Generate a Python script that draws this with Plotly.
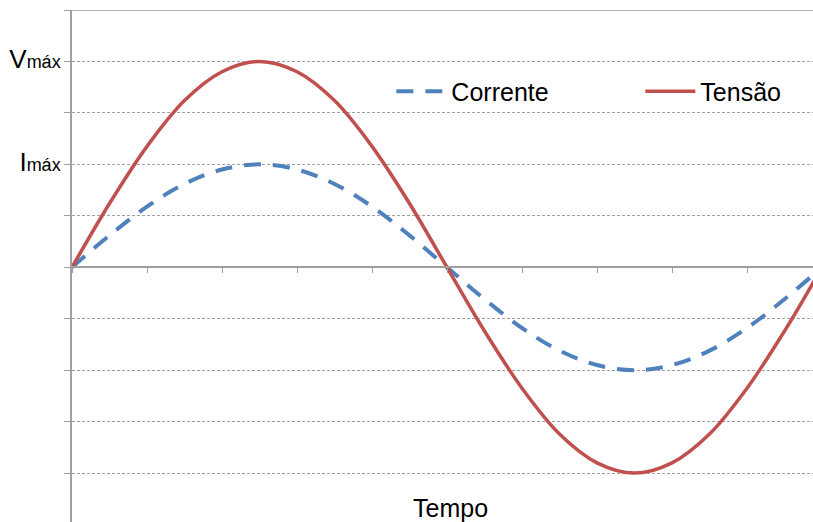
import plotly.graph_objects as go

# time (in tick units; one period = 10 units)
tempo = [0, 0.5, 1, 1.5, 2, 2.5, 3, 3.5, 4, 4.5, 5, 5.5, 6, 6.5, 7, 7.5, 8, 8.5, 9, 9.5, 10]
tensao = [0, 1.24, 2.35, 3.24, 3.80, 4.0, 3.80, 3.24, 2.35, 1.24, 0,
          -1.24, -2.35, -3.24, -3.80, -4.0, -3.80, -3.24, -2.35, -1.24, 0]
corrente = [0, 0.62, 1.18, 1.62, 1.90, 2.0, 1.90, 1.62, 1.18, 0.62, 0,
            -0.62, -1.18, -1.62, -1.90, -2.0, -1.90, -1.62, -1.18, -0.62, 0]

y_tickvals = [-4, -3, -2, -1, 0, 1, 2, 3, 4, 5]
y_ticktext = ["", "", "", "", "", "",
              "<span style='font-size:26px'>I</span>máx", "",
              "<span style='font-size:26px'>V</span>máx", ""]
x_tickvals = [0, 1, 2, 3, 4, 5, 6, 7, 8, 9, 10]

fig = go.Figure()
fig.add_trace(go.Scatter(x=tempo, y=corrente, name="Corrente", mode="lines",
                         line=dict(color="#4f81bd", width=4, dash="17px,12px", shape="spline"),
                         legend="legend"))
fig.add_trace(go.Scatter(x=tempo, y=tensao, name="Tensão", mode="lines",
                         line=dict(color="#c0504d", width=3.5, shape="spline"),
                         legend="legend2"))

leg_common = dict(orientation="h", yanchor="middle", xanchor="left",
                  font=dict(size=25, color="black"), itemwidth=50,
                  bgcolor="rgba(0,0,0,0)")

fig.update_layout(
    width=813, height=522,
    margin=dict(l=72, r=0, t=10, b=0),
    paper_bgcolor="white", plot_bgcolor="white",
    font=dict(family="Liberation Sans, Arial", color="black"),
    showlegend=True,
    legend=dict(x=0.431, y=0.841, **leg_common),
    legend2=dict(x=0.767, y=0.841, **leg_common),
    xaxis=dict(range=[0, 741 / 75], tickvals=x_tickvals, showticklabels=False,
               showgrid=False, zeroline=False, showline=True, linecolor="#a0a0a0",
               linewidth=1.5, ticks="outside", ticklen=5, tickcolor="#a0a0a0",
               anchor="free", position=4.95 / 9.95, automargin=False),
    yaxis=dict(range=[-4.95, 5], tickvals=y_tickvals, ticktext=y_ticktext,
               showgrid=True, gridcolor="#a0a0a0", griddash="3px,2px", gridwidth=1,
               zeroline=False, showline=True, linecolor="#a0a0a0", linewidth=1.5,
               ticks="outside", ticklen=6, tickcolor="#a0a0a0", automargin=False,
               tickfont=dict(size=18, color="black")),
    shapes=[dict(type="line", xref="paper", yref="y", x0=0, x1=1, y0=5, y1=5,
                 line=dict(color="#a0a0a0", width=1.5))],
    annotations=[dict(text="Tempo", xref="x", yref="paper", x=5.05, y=0,
                      yanchor="bottom", yshift=-2,
                      showarrow=False, font=dict(size=25, color="black"))],
)

fig.write_html("out.html", config={"displayModeBar": False},
               post_script="document.body.style.margin='0';")
